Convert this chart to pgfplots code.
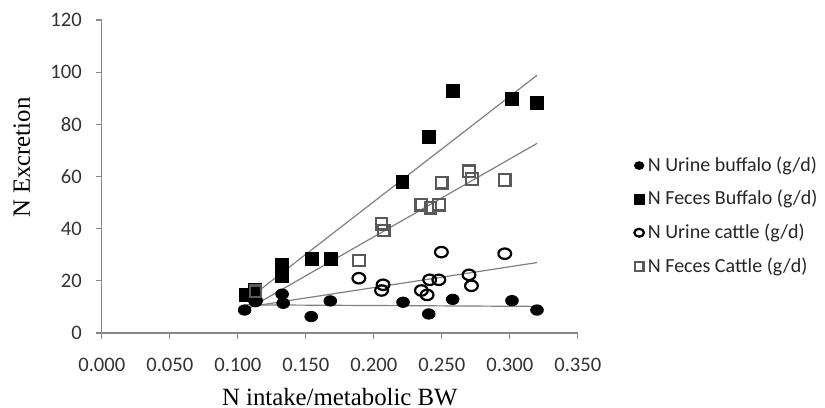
\documentclass[border=0pt]{standalone}
\usepackage{fontspec}
\setmainfont{Carlito}
\newfontfamily\tnr{Liberation Serif}
\usepackage{pgfplots}
\pgfplotsset{compat=1.18}
\definecolor{axisgray}{RGB}{134,134,134}
\definecolor{trendgray}{RGB}{128,128,128}
\definecolor{sqgray}{RGB}{89,89,89}

% N urine / feces, buffalo and cattle
\pgfplotstableread{
x y
0.105 8.8
0.113 12.0
0.1326 14.9
0.1334 11.4
0.154 6.3
0.168 12.3
0.2215 11.8
0.2404 7.3
0.258 12.9
0.3016 12.4
0.320 8.8
}\urinebuf
\pgfplotstableread{
x y
0.1057 14.6
0.1126 16.5
0.1322 26.2
0.1326 21.7
0.1547 28.5
0.1682 28.5
0.2211 57.8
0.2404 75.1
0.2583 92.8
0.3016 89.6
0.320 88.3
}\fecesbuf
\pgfplotstableread{
x y
0.113 12.5
0.189 21.0
0.2057 16.3
0.2068 18.5
0.235 16.3
0.2392 14.6
0.2411 20.4
0.2478 20.4
0.2497 31.0
0.270 22.3
0.2718 18.1
0.2963 30.4
}\urinecat
\pgfplotstableread{
x y
0.113 16.0
0.189 27.8
0.2057 41.9
0.2073 39.3
0.235 49.2
0.2417 48.0
0.2478 49.2
0.2500 57.6
0.2700 62.0
0.2722 59.1
0.2963 58.6
}\fecescat

\begin{document}
\begin{tikzpicture}
\path[use as bounding box] (-50.9bp,-37.5bp) rectangle (361.6bp,166.5bp);
\begin{axis}[
  scale only axis, width=238bp, height=156.5bp,
  at={(0,0)}, anchor=south west,
  xmin=0, xmax=0.35, ymin=0, ymax=120,
  axis x line*=bottom, axis y line*=left,
  axis line style={axisgray, line width=0.6bp, -},
  xtick={0,0.05,0.1,0.15,0.2,0.25,0.3,0.35},
  ytick={0,20,40,60,80,100,120},
  tick align=outside, major tick length=3bp,
  tick style={axisgray, line width=0.6bp},
  /pgf/number format/assume math mode=true,
  xticklabel style={/pgf/number format/fixed, /pgf/number format/fixed zerofill,
    /pgf/number format/precision=3, yshift=-6bp},
  yticklabel style={/pgf/number format/fixed, /pgf/number format/precision=0, xshift=-3.5bp},
  ticklabel style={font=\fontsize{10.3bp}{12bp}\selectfont, text=black!80},
  xlabel={\tnr N intake/metabolic BW},
  ylabel={\tnr N Excretion},
  label style={font=\fontsize{12.4bp}{14bp}\selectfont},
  xlabel style={at={(axis description cs:0.5,-0.205)}, anchor=center},
  ylabel style={at={(axis description cs:-0.168,0.56)}, anchor=center},
  legend cell align=left,
  legend style={at={(axis description cs:1.118,0.374)}, anchor=west,
    draw=none, fill=none, inner sep=0pt,
    font=\fontsize{10bp}{12bp}\selectfont, text=black!85,
    row sep=4bp},
  legend image code/.code={\draw[#1, every mark/.append style={scale=0.75}]
    plot coordinates {(3bp,0bp)};},
  clip=false,
]
% trend lines
\addplot[trendgray, line width=0.6bp, forget plot] coordinates {(0.106,10.8) (0.320,10.2)};
\addplot[trendgray, line width=0.6bp, forget plot] coordinates {(0.106,12.4) (0.320,98.8)};
\addplot[trendgray, line width=0.6bp, forget plot] coordinates {(0.106,9.9) (0.320,27.0)};
\addplot[trendgray, line width=0.6bp, forget plot] coordinates {(0.106,8.8) (0.320,72.7)};

\addplot[only marks, mark=*, mark size=2.9bp, black,
  mark options={xscale=1.1, yscale=0.9}] table {\urinebuf};
\addlegendentry{N Urine buffalo (g/d)}
\addplot[only marks, mark=square*, mark size=3.2bp, black] table {\fecesbuf};
\addlegendentry{N Feces Buffalo (g/d)}
\addplot[only marks, mark=o, mark size=2.9bp, black,
  mark options={line width=1.1bp, fill=none, xscale=1.1, yscale=0.9}] table {\urinecat};
\addlegendentry{N Urine cattle (g/d)}
\addplot[only marks, mark=square, mark size=2.9bp, sqgray,
  mark options={line width=1.1bp, fill=none}] table {\fecescat};
\addlegendentry{N Feces Cattle (g/d)}
\end{axis}
\end{tikzpicture}
\end{document}
